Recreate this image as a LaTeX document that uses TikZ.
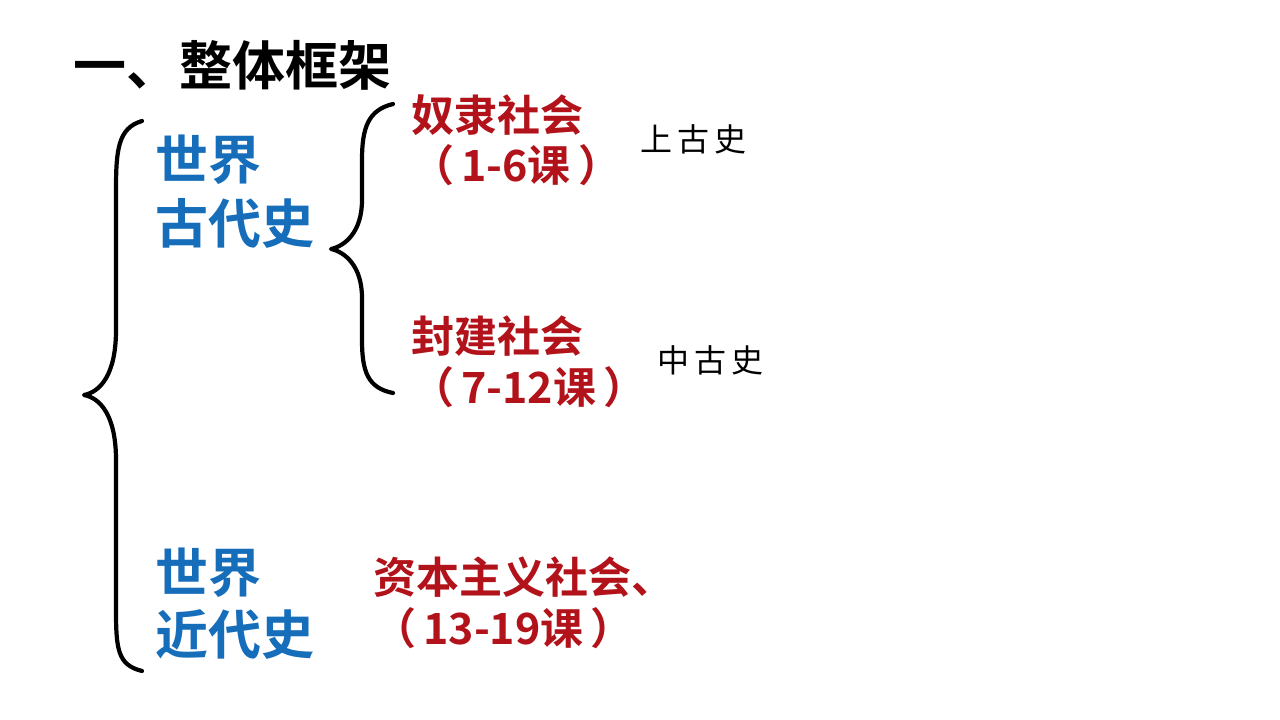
\documentclass[tikz,border=0pt]{standalone}
\usepackage{fontspec}
\newfontfamily\cjk{Noto Sans CJK SC}[BoldFont={Noto Sans CJK SC Bold}]
\definecolor{tblue}{RGB}{22,110,186}
\definecolor{tred}{RGB}{178,18,26}
\tikzset{
  title/.style={anchor=west,inner sep=0pt,font=\cjk\bfseries\fontsize{53}{60}\selectfont,text=black},
  era/.style={anchor=west,inner sep=0pt,font=\cjk\bfseries\fontsize{53}{60}\selectfont,text=tblue},
  soc/.style={anchor=west,inner sep=0pt,font=\cjk\bfseries\fontsize{43}{48}\selectfont,text=tred},
  note/.style={anchor=west,inner sep=0pt,font=\cjk\fontsize{32}{38}\selectfont,text=black},
  brace/.style={line width=4.2pt,line cap=round,line join=round,black}
}
\begin{document}
\begin{tikzpicture}[x=1pt,y=-1pt]
\useasboundingbox[fill=white] (0,0) rectangle (1280,720);
% title
\node[title] (t) at (73,65) {一、整体框架};
% big brace
\coordinate (bt) at (142,121);
\coordinate (bm) at (84,395);
\coordinate (bb) at (142,671);
\draw[brace] (bt) .. controls (118,128) and (116,150) .. (116,190)
  -- (116,330) .. controls (116,375) and (100,392) .. (bm)
  .. controls (100,398) and (116,415) .. (116,460)
  -- (116,610) .. controls (116,650) and (118,665) .. (bb);
% small brace
\coordinate (st) at (393,104);
\coordinate (sm) at (331,249);
\coordinate (sb) at (393,393);
\draw[brace] (st) .. controls (368,110) and (362,128) .. (362,160)
  -- (362,200) .. controls (362,232) and (345,246) .. (sm)
  .. controls (345,252) and (362,266) .. (362,298)
  -- (362,340) .. controls (362,372) and (368,388) .. (sb);
% blue
\node[era] (a1) at (155,160) {世界};
\node[era] (a2) at (155,223) {古代史};
\node[era] (b1) at (155,573) {世界};
\node[era] (b2) at (155,634) {近代史};
% red
\node[soc] (r1) at (411,115) {奴隶社会};
\node[soc] (r1b) at (411,165) {（\,1-6课\,）};
\node[soc] (r2) at (411,336) {封建社会};
\node[soc] (r2b) at (411,387) {（\,7-12课\,）};
\node[soc] (r3) at (373,577) {资本主义社会、};
\node[soc] (r3b) at (373,628) {（\,13-19课\,）};
% notes
\node[note] (n1) at (640,139) {上\,古\,史};
\node[note] (n2) at (657,360) {中\,古\,史};
\end{tikzpicture}
\end{document}
